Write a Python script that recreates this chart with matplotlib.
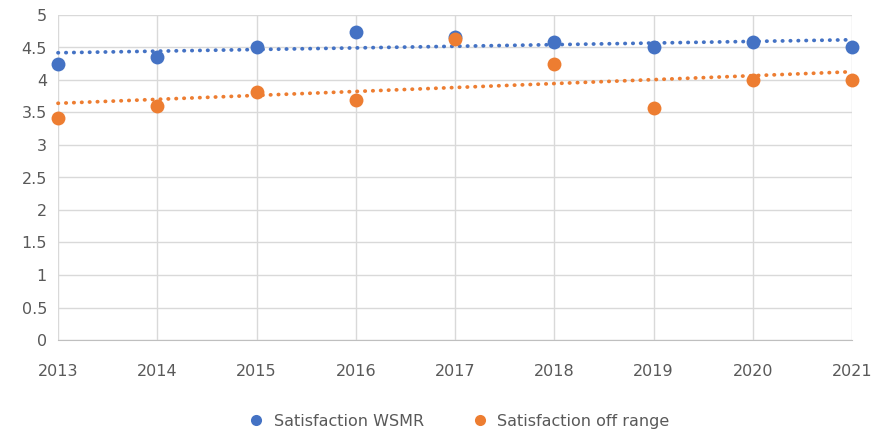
import numpy as np
import matplotlib
matplotlib.use("Agg")
import matplotlib.pyplot as plt

years = [2013, 2014, 2015, 2016, 2017, 2018, 2019, 2020, 2021]
wsmr = [4.25, 4.36, 4.50, 4.74, 4.66, 4.58, 4.50, 4.58, 4.50]
offrange = [3.41, 3.60, 3.81, 3.69, 4.63, 4.25, 3.57, 4.00, 4.00]
yticks = [0, 0.5, 1, 1.5, 2, 2.5, 3, 3.5, 4, 4.5, 5]
ytick_labels = ["0", "0.5", "1", "1.5", "2", "2.5", "3", "3.5", "4", "4.5", "5"]
series_names = ["Satisfaction WSMR", "Satisfaction off range"]

blue = "#4472C4"
orange = "#ED7D31"
txt = "#595959"

fig = plt.figure(figsize=(8.75, 4.36), dpi=100)
ax = fig.add_axes([58/875, 1-340/436, (852-58)/875, (340-15)/436])

x = np.array(years, dtype=float)
for vals, col, name in [(wsmr, blue, series_names[0]), (offrange, orange, series_names[1])]:
    p = np.polyfit(x, np.array(vals), 1)
    ax.plot(x, np.polyval(p, x), color=col, lw=2.7, linestyle=(0, (0.1, 2.0)),
            dash_capstyle="round", zorder=3, clip_on=False)
    ax.plot(years, vals, "o", color=col, markersize=10, zorder=4, clip_on=False,
            label=name, markeredgewidth=0)

ax.set_xlim(2013, 2021)
ax.set_ylim(0, 5)
ax.set_xticks(years)
ax.set_xticklabels([str(y) for y in years])
ax.set_yticks(yticks)
ax.set_yticklabels(ytick_labels)
ax.grid(True, color="#d9d9d9", lw=1)
ax.set_axisbelow(True)
for s in ["left", "right", "top"]:
    ax.spines[s].set_visible(False)
ax.spines["bottom"].set_color("#bfbfbf")
ax.tick_params(axis="both", length=0, labelcolor=txt, labelsize=11.5)
ax.tick_params(axis="x", pad=17)
ax.tick_params(axis="y", pad=8)

h, l = ax.get_legend_handles_labels()
fig.legend(h, l, loc="center", bbox_to_anchor=(455/875, 1-421/436), ncol=2,
           frameon=False, fontsize=11.5, labelcolor=txt, handletextpad=0.1,
           columnspacing=2.5, markerscale=0.8)

fig.savefig("out.png", dpi=100)
